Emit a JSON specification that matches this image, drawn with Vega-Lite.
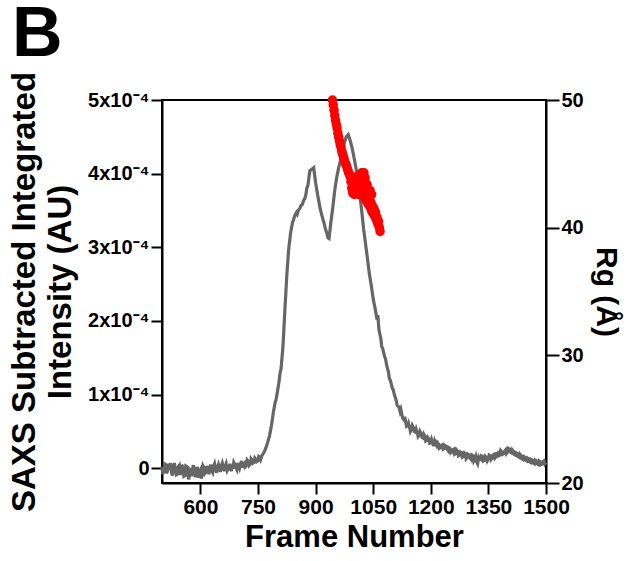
{
  "$schema": "https://vega.github.io/schema/vega-lite/v6.json",
  "width": 384,
  "height": 383,
  "autosize": {"type": "none"},
  "padding": {"left": 162, "top": 100, "right": 88, "bottom": 78},
  "background": "white",
  "config": {
    "view": {"stroke": "black", "strokeWidth": 2},
    "font": "Liberation Sans",
    "axis": {
      "domainColor": "black", "domainWidth": 2,
      "tickColor": "black", "tickWidth": 2,
      "labelColor": "black", "labelFont": "Liberation Sans", "labelFontWeight": "bold",
      "titleFont": "Liberation Sans", "titleFontWeight": "bold", "titleColor": "black",
      "grid": false, "labelOverlap": false, "labelBound": false
    }
  },
  "title": {"text": "B", "anchor": "start", "frame": "group", "fontSize": 70, "fontWeight": "bold", "font": "Liberation Sans", "color": "black", "dx": -150, "offset": 0},
  "datasets": {
    "saxs": [
      {"frame":500,"intensity":0.02e-4},{"frame":503,"intensity":-0.06e-4},{"frame":505,"intensity":-0.04e-4},{"frame":510,"intensity":0.05e-4},{"frame":515,"intensity":-0.02e-4},{"frame":518,"intensity":0.06e-4},{"frame":520,"intensity":0.01e-4},{"frame":525,"intensity":-0.06e-4},{"frame":530,"intensity":0.03e-4},{"frame":535,"intensity":-0.03e-4},{"frame":540,"intensity":-0.08e-4},{"frame":545,"intensity":0.04e-4},{"frame":550,"intensity":-0.05e-4},{"frame":555,"intensity":-0.01e-4},{"frame":560,"intensity":-0.10e-4},{"frame":565,"intensity":0.02e-4},{"frame":570,"intensity":-0.15e-4},{"frame":575,"intensity":-0.04e-4},{"frame":580,"intensity":0.01e-4},{"frame":585,"intensity":-0.07e-4},{"frame":590,"intensity":-0.03e-4},{"frame":595,"intensity":-0.13e-4},{"frame":600,"intensity":-0.02e-4},{"frame":605,"intensity":-0.09e-4},{"frame":610,"intensity":0},{"frame":615,"intensity":-0.05e-4},{"frame":620,"intensity":-0.02e-4},{"frame":625,"intensity":0.01e-4},{"frame":630,"intensity":-0.04e-4},{"frame":635,"intensity":0.03e-4},{"frame":640,"intensity":-0.02e-4},{"frame":645,"intensity":0.02e-4},{"frame":650,"intensity":-0.01e-4},{"frame":655,"intensity":0.04e-4},{"frame":660,"intensity":0},{"frame":665,"intensity":0.03e-4},{"frame":670,"intensity":-0.03e-4},{"frame":675,"intensity":0.02e-4},{"frame":680,"intensity":-0.04e-4},{"frame":685,"intensity":0.01e-4},{"frame":690,"intensity":0.05e-4},{"frame":695,"intensity":-0.02e-4},{"frame":700,"intensity":0.03e-4},{"frame":705,"intensity":0.06e-4},{"frame":710,"intensity":0.01e-4},{"frame":715,"intensity":0.07e-4},{"frame":720,"intensity":0.04e-4},{"frame":725,"intensity":0.09e-4},{"frame":730,"intensity":0.06e-4},{"frame":735,"intensity":0.11e-4},{"frame":740,"intensity":0.08e-4},{"frame":745,"intensity":0.12e-4},{"frame":750,"intensity":0.10e-4},{"frame":755,"intensity":0.15e-4},
      {"frame":760,"intensity":0.17e-4},{"frame":765,"intensity":0.21e-4},{"frame":770,"intensity":0.27e-4},{"frame":775,"intensity":0.35e-4},{"frame":780,"intensity":0.44e-4},{"frame":785,"intensity":0.58e-4},{"frame":790,"intensity":0.76e-4},{"frame":795,"intensity":0.90e-4},{"frame":800,"intensity":1.02e-4},{"frame":805,"intensity":1.18e-4},{"frame":810,"intensity":1.35e-4},{"frame":815,"intensity":1.65e-4},{"frame":820,"intensity":2.15e-4},{"frame":825,"intensity":2.62e-4},{"frame":830,"intensity":2.98e-4},{"frame":835,"intensity":3.20e-4},{"frame":840,"intensity":3.34e-4},{"frame":845,"intensity":3.42e-4},{"frame":850,"intensity":3.47e-4},{"frame":855,"intensity":3.50e-4},{"frame":860,"intensity":3.54e-4},{"frame":865,"intensity":3.58e-4},{"frame":870,"intensity":3.65e-4},{"frame":875,"intensity":3.72e-4},{"frame":880,"intensity":3.84e-4},{"frame":885,"intensity":4.04e-4},{"frame":890,"intensity":4.06e-4},{"frame":895,"intensity":4.08e-4},{"frame":900,"intensity":3.88e-4},
      {"frame":905,"intensity":3.72e-4},{"frame":910,"intensity":3.58e-4},{"frame":915,"intensity":3.46e-4},{"frame":920,"intensity":3.36e-4},{"frame":925,"intensity":3.26e-4},{"frame":930,"intensity":3.18e-4},{"frame":935,"intensity":3.12e-4},{"frame":940,"intensity":3.35e-4},{"frame":945,"intensity":3.55e-4},{"frame":950,"intensity":3.78e-4},{"frame":955,"intensity":3.95e-4},{"frame":960,"intensity":4.08e-4},{"frame":965,"intensity":4.18e-4},{"frame":970,"intensity":4.30e-4},{"frame":975,"intensity":4.42e-4},{"frame":980,"intensity":4.50e-4},{"frame":985,"intensity":4.53e-4},
      {"frame":990,"intensity":4.45e-4},{"frame":995,"intensity":4.35e-4},{"frame":1000,"intensity":4.22e-4},{"frame":1005,"intensity":4.08e-4},{"frame":1010,"intensity":3.92e-4},{"frame":1015,"intensity":3.72e-4},{"frame":1020,"intensity":3.50e-4},{"frame":1025,"intensity":3.25e-4},{"frame":1030,"intensity":3.05e-4},{"frame":1035,"intensity":2.85e-4},{"frame":1040,"intensity":2.64e-4},{"frame":1045,"intensity":2.48e-4},{"frame":1050,"intensity":2.30e-4},{"frame":1055,"intensity":2.17e-4},{"frame":1060,"intensity":2.02e-4},{"frame":1065,"intensity":1.88e-4},{"frame":1070,"intensity":1.76e-4},{"frame":1075,"intensity":1.62e-4},{"frame":1080,"intensity":1.51e-4},{"frame":1085,"intensity":1.40e-4},{"frame":1090,"intensity":1.30e-4},{"frame":1095,"intensity":1.19e-4},{"frame":1100,"intensity":1.08e-4},{"frame":1105,"intensity":1.00e-4},{"frame":1110,"intensity":0.92e-4},{"frame":1115,"intensity":0.84e-4},{"frame":1120,"intensity":0.77e-4},{"frame":1125,"intensity":0.72e-4},{"frame":1130,"intensity":0.66e-4},{"frame":1135,"intensity":0.62e-4},{"frame":1140,"intensity":0.58e-4},{"frame":1145,"intensity":0.55e-4},{"frame":1150,"intensity":0.53e-4},{"frame":1155,"intensity":0.55e-4},{"frame":1160,"intensity":0.49e-4},{"frame":1165,"intensity":0.48e-4},{"frame":1170,"intensity":0.45e-4},{"frame":1175,"intensity":0.47e-4},{"frame":1180,"intensity":0.41e-4},{"frame":1185,"intensity":0.43e-4},{"frame":1190,"intensity":0.38e-4},{"frame":1195,"intensity":0.40e-4},{"frame":1200,"intensity":0.35e-4},
      {"frame":1205,"intensity":0.34e-4},{"frame":1210,"intensity":0.37e-4},{"frame":1215,"intensity":0.31e-4},{"frame":1220,"intensity":0.33e-4},{"frame":1225,"intensity":0.28e-4},{"frame":1230,"intensity":0.32e-4},{"frame":1235,"intensity":0.27e-4},{"frame":1240,"intensity":0.30e-4},{"frame":1245,"intensity":0.24e-4},{"frame":1250,"intensity":0.27e-4},{"frame":1255,"intensity":0.22e-4},{"frame":1260,"intensity":0.26e-4},{"frame":1265,"intensity":0.20e-4},{"frame":1270,"intensity":0.23e-4},{"frame":1275,"intensity":0.18e-4},{"frame":1280,"intensity":0.21e-4},{"frame":1285,"intensity":0.16e-4},{"frame":1290,"intensity":0.20e-4},{"frame":1295,"intensity":0.15e-4},{"frame":1300,"intensity":0.18e-4},{"frame":1305,"intensity":0.12e-4},{"frame":1310,"intensity":0.17e-4},{"frame":1315,"intensity":0.13e-4},{"frame":1320,"intensity":0.08e-4},{"frame":1325,"intensity":0.15e-4},{"frame":1330,"intensity":0.12e-4},{"frame":1335,"intensity":0.16e-4},{"frame":1340,"intensity":0.11e-4},{"frame":1345,"intensity":0.14e-4},{"frame":1350,"intensity":0.13e-4},{"frame":1355,"intensity":0.17e-4},{"frame":1360,"intensity":0.14e-4},{"frame":1365,"intensity":0.19e-4},{"frame":1370,"intensity":0.16e-4},{"frame":1375,"intensity":0.21e-4},{"frame":1380,"intensity":0.18e-4},{"frame":1385,"intensity":0.22e-4},{"frame":1390,"intensity":0.20e-4},{"frame":1395,"intensity":0.25e-4},{"frame":1400,"intensity":0.22e-4},{"frame":1405,"intensity":0.26e-4},{"frame":1410,"intensity":0.21e-4},{"frame":1415,"intensity":0.23e-4},{"frame":1420,"intensity":0.18e-4},{"frame":1425,"intensity":0.20e-4},{"frame":1430,"intensity":0.15e-4},{"frame":1435,"intensity":0.17e-4},{"frame":1440,"intensity":0.12e-4},{"frame":1445,"intensity":0.15e-4},{"frame":1450,"intensity":0.10e-4},{"frame":1455,"intensity":0.13e-4},{"frame":1460,"intensity":0.08e-4},{"frame":1465,"intensity":0.11e-4},{"frame":1470,"intensity":0.06e-4},{"frame":1475,"intensity":0.10e-4},{"frame":1480,"intensity":0.05e-4},{"frame":1485,"intensity":0.09e-4},{"frame":1490,"intensity":0.06e-4},{"frame":1495,"intensity":0.10e-4},{"frame":1500,"intensity":0.08e-4},
      {"frame":502,"intensity":-0.08e-4},{"frame":507,"intensity":0.06e-4},{"frame":512,"intensity":-0.07e-4},{"frame":522,"intensity":0.07e-4},{"frame":527,"intensity":-0.10e-4},{"frame":532,"intensity":0.07e-4},{"frame":537,"intensity":-0.09e-4},{"frame":542,"intensity":0.02e-4},{"frame":547,"intensity":-0.09e-4},{"frame":552,"intensity":0.05e-4},{"frame":557,"intensity":-0.11e-4},{"frame":562,"intensity":0.03e-4},{"frame":567,"intensity":-0.08e-4},{"frame":572,"intensity":-0.02e-4},{"frame":577,"intensity":-0.11e-4},{"frame":582,"intensity":0.04e-4},{"frame":587,"intensity":-0.12e-4},{"frame":592,"intensity":0.02e-4},{"frame":597,"intensity":-0.05e-4},{"frame":602,"intensity":-0.14e-4},{"frame":607,"intensity":0.03e-4},{"frame":612,"intensity":-0.07e-4},{"frame":617,"intensity":0.03e-4},{"frame":622,"intensity":-0.08e-4},{"frame":627,"intensity":0.05e-4},{"frame":632,"intensity":-0.06e-4},{"frame":637,"intensity":0.06e-4},{"frame":642,"intensity":-0.06e-4},{"frame":647,"intensity":0.05e-4},{"frame":652,"intensity":-0.05e-4},{"frame":657,"intensity":0.07e-4},{"frame":662,"intensity":-0.04e-4},{"frame":667,"intensity":0.06e-4},{"frame":672,"intensity":-0.01e-4},{"frame":677,"intensity":0.06e-4},{"frame":682,"intensity":0},{"frame":687,"intensity":0.08e-4},{"frame":692,"intensity":0.01e-4},{"frame":697,"intensity":0.07e-4},{"frame":702,"intensity":0},{"frame":707,"intensity":0.10e-4},{"frame":712,"intensity":0.05e-4},{"frame":717,"intensity":0.02e-4},{"frame":722,"intensity":0.11e-4},{"frame":727,"intensity":0.04e-4},{"frame":732,"intensity":0.13e-4},{"frame":737,"intensity":0.07e-4},{"frame":742,"intensity":0.14e-4},{"frame":747,"intensity":0.09e-4},{"frame":752,"intensity":0.16e-4},{"frame":757,"intensity":0.12e-4},
      {"frame":787,"intensity":0.65e-4},{"frame":797,"intensity":0.93e-4},{"frame":807,"intensity":1.28e-4},{"frame":842,"intensity":3.36e-4},{"frame":852,"intensity":3.45e-4},{"frame":862,"intensity":3.57e-4},{"frame":872,"intensity":3.66e-4},{"frame":877,"intensity":3.80e-4},{"frame":912,"intensity":3.52e-4},{"frame":922,"intensity":3.33e-4},{"frame":932,"intensity":3.13e-4},
      {"frame":1062,"intensity":2.08e-4},{"frame":1072,"intensity":1.66e-4},{"frame":1082,"intensity":1.49e-4},{"frame":1092,"intensity":1.22e-4},{"frame":1102,"intensity":1.07e-4},{"frame":1112,"intensity":0.86e-4},{"frame":1117,"intensity":0.83e-4},
      {"frame":1122,"intensity":0.80e-4},{"frame":1127,"intensity":0.68e-4},{"frame":1132,"intensity":0.70e-4},{"frame":1137,"intensity":0.57e-4},{"frame":1142,"intensity":0.61e-4},{"frame":1147,"intensity":0.50e-4},{"frame":1152,"intensity":0.58e-4},{"frame":1157,"intensity":0.50e-4},{"frame":1162,"intensity":0.53e-4},{"frame":1167,"intensity":0.43e-4},{"frame":1172,"intensity":0.50e-4},{"frame":1177,"intensity":0.42e-4},{"frame":1182,"intensity":0.46e-4},{"frame":1187,"intensity":0.37e-4},{"frame":1192,"intensity":0.42e-4},{"frame":1197,"intensity":0.34e-4},{"frame":1202,"intensity":0.39e-4},{"frame":1207,"intensity":0.30e-4},{"frame":1212,"intensity":0.34e-4},{"frame":1217,"intensity":0.35e-4},{"frame":1222,"intensity":0.27e-4},{"frame":1227,"intensity":0.31e-4},{"frame":1232,"intensity":0.26e-4},{"frame":1237,"intensity":0.31e-4},{"frame":1242,"intensity":0.26e-4},{"frame":1247,"intensity":0.28e-4},{"frame":1252,"intensity":0.21e-4},{"frame":1257,"intensity":0.25e-4},{"frame":1262,"intensity":0.19e-4},{"frame":1267,"intensity":0.25e-4},{"frame":1272,"intensity":0.17e-4},{"frame":1277,"intensity":0.22e-4},{"frame":1282,"intensity":0.15e-4},{"frame":1287,"intensity":0.21e-4},{"frame":1292,"intensity":0.13e-4},{"frame":1297,"intensity":0.19e-4},{"frame":1302,"intensity":0.14e-4},{"frame":1307,"intensity":0.18e-4},{"frame":1312,"intensity":0.10e-4},{"frame":1317,"intensity":0.16e-4},{"frame":1322,"intensity":0.06e-4},{"frame":1327,"intensity":0.13e-4},{"frame":1332,"intensity":0.17e-4},{"frame":1337,"intensity":0.10e-4},{"frame":1342,"intensity":0.16e-4},{"frame":1347,"intensity":0.10e-4},{"frame":1352,"intensity":0.18e-4},{"frame":1357,"intensity":0.12e-4},{"frame":1362,"intensity":0.18e-4},{"frame":1367,"intensity":0.14e-4},{"frame":1372,"intensity":0.20e-4},{"frame":1377,"intensity":0.17e-4},{"frame":1382,"intensity":0.24e-4},{"frame":1387,"intensity":0.19e-4},{"frame":1392,"intensity":0.23e-4},{"frame":1397,"intensity":0.20e-4},{"frame":1402,"intensity":0.27e-4},{"frame":1407,"intensity":0.22e-4},{"frame":1412,"intensity":0.25e-4},{"frame":1417,"intensity":0.19e-4},{"frame":1422,"intensity":0.21e-4},{"frame":1427,"intensity":0.16e-4},{"frame":1432,"intensity":0.19e-4},{"frame":1437,"intensity":0.13e-4},{"frame":1442,"intensity":0.16e-4},{"frame":1447,"intensity":0.11e-4},{"frame":1452,"intensity":0.14e-4},{"frame":1457,"intensity":0.09e-4},{"frame":1462,"intensity":0.12e-4},{"frame":1467,"intensity":0.07e-4},{"frame":1472,"intensity":0.11e-4},{"frame":1477,"intensity":0.06e-4},{"frame":1482,"intensity":0.10e-4},{"frame":1487,"intensity":0.05e-4},{"frame":1492,"intensity":0.09e-4},{"frame":1497,"intensity":0.06e-4}
    ],
    "rg": [
      {"frame":944,"rg":50.0},{"frame":946,"rg":49.6},{"frame":948,"rg":49.2},{"frame":950,"rg":48.8},{"frame":952,"rg":48.4},{"frame":954,"rg":48.1},{"frame":956,"rg":47.8},{"frame":958,"rg":47.4},{"frame":960,"rg":47.1},{"frame":962,"rg":46.8},{"frame":964,"rg":46.5},{"frame":966,"rg":46.3},{"frame":968,"rg":46.0},{"frame":970,"rg":45.8},{"frame":972,"rg":45.6},{"frame":974,"rg":45.4},{"frame":976,"rg":45.2},{"frame":978,"rg":45.0},{"frame":980,"rg":44.9},{"frame":982,"rg":44.7},{"frame":984,"rg":44.5},{"frame":986,"rg":44.3},{"frame":988,"rg":44.2},{"frame":990,"rg":44.0},{"frame":992,"rg":43.6},{"frame":994,"rg":43.1},{"frame":996,"rg":42.9},{"frame":998,"rg":43.7},{"frame":1000,"rg":43.5},{"frame":1002,"rg":43.3},{"frame":1004,"rg":43.6},{"frame":1006,"rg":43.2},{"frame":1008,"rg":43.4},{"frame":1010,"rg":43.0},{"frame":1012,"rg":43.3},{"frame":1014,"rg":42.9},{"frame":1016,"rg":43.2},{"frame":1018,"rg":43.5},{"frame":1020,"rg":43.9},{"frame":1022,"rg":44.1},{"frame":1024,"rg":43.7},{"frame":1026,"rg":43.0},{"frame":1028,"rg":42.7},{"frame":1030,"rg":42.2},{"frame":1032,"rg":42.5},{"frame":1034,"rg":42.0},{"frame":1036,"rg":42.4},{"frame":1038,"rg":41.8},{"frame":1040,"rg":42.3},{"frame":1042,"rg":41.6},{"frame":1044,"rg":42.0},{"frame":1046,"rg":41.3},{"frame":1048,"rg":41.7},{"frame":1050,"rg":41.1},{"frame":1052,"rg":41.5},{"frame":1054,"rg":40.9},{"frame":1056,"rg":41.2},{"frame":1058,"rg":40.6},{"frame":1060,"rg":40.8},{"frame":1062,"rg":40.3},{"frame":1064,"rg":40.5},{"frame":1066,"rg":40.0},{"frame":1068,"rg":39.7},
      {"frame":997,"rg":42.7},{"frame":1001,"rg":42.6},{"frame":1006,"rg":42.8},{"frame":1012,"rg":42.6},{"frame":1018,"rg":42.7},{"frame":1024,"rg":42.5},{"frame":1030,"rg":43.2},{"frame":1034,"rg":43.4},{"frame":1038,"rg":43.0},{"frame":1042,"rg":42.9},{"frame":1046,"rg":42.6},{"frame":1026,"rg":44.3},{"frame":1029,"rg":43.9},{"frame":1020,"rg":44.3},{"frame":1014,"rg":43.8},{"frame":1008,"rg":44.0}
    ]
  },
  "layer": [
    {
      "data": {"name": "saxs"},
      "mark": {"type": "line", "color": "#666666", "strokeWidth": 3.2},
      "encoding": {
        "x": {"field": "frame", "type": "quantitative",
          "scale": {"domain": [500, 1500], "nice": false, "zero": false},
          "axis": {"values": [600, 750, 900, 1050, 1200, 1350, 1500], "format": "d", "title": "Frame Number", "titleFontSize": 31, "labelFontSize": 21, "tickSize": 11, "labelPadding": 2, "titlePadding": 5, "labelFlush": false}},
        "y": {"field": "intensity", "type": "quantitative",
          "scale": {"domain": [-0.00002, 0.0005], "nice": false, "zero": false},
          "axis": {"orient": "left", "values": [0, 0.0001, 0.0002, 0.0003, 0.0004, 0.0005],
            "labelExpr": "datum.value == 0 ? '0' : round(datum.value * 10000) + 'x10⁻⁴'",
            "title": ["SAXS Subtracted Integrated", "Intensity (AU)"], "titleFontSize": 33, "titleLineHeight": 36,
            "labelFontSize": 20, "tickSize": 11, "labelPadding": 2, "titlePadding": 10, "labelFlush": false}}
      }
    },
    {
      "data": {"name": "rg"},
      "mark": {"type": "circle", "color": "#ff0000", "size": 90, "opacity": 1},
      "encoding": {
        "x": {"field": "frame", "type": "quantitative"},
        "y": {"field": "rg", "type": "quantitative",
          "scale": {"domain": [20, 50], "nice": false, "zero": false},
          "axis": {"orient": "right", "values": [20, 30, 40, 50], "title": "Rg (Å)", "titleFontSize": 30,
            "labelFontSize": 20, "tickSize": 13, "labelPadding": 2, "titlePadding": 7, "labelFlush": false}}
      }
    }
  ],
  "resolve": {"scale": {"y": "independent"}}
}
